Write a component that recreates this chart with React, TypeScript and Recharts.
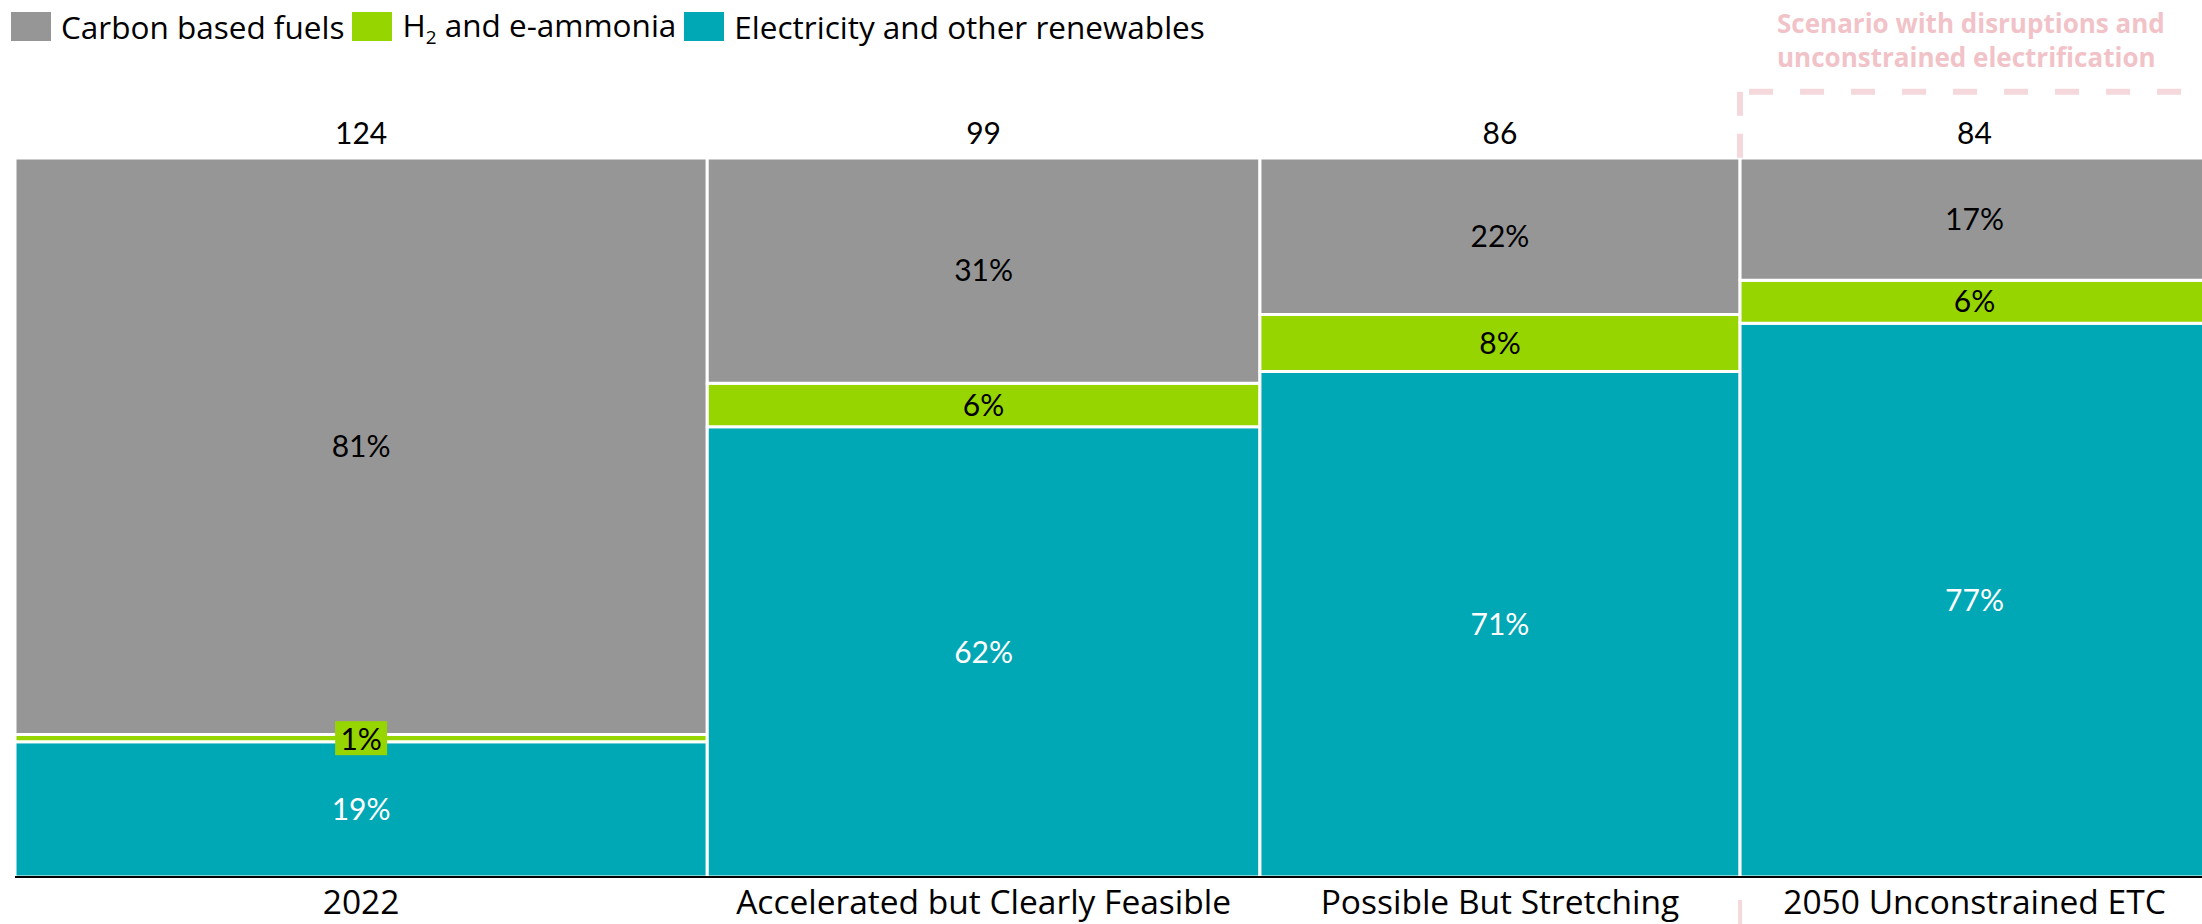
import React from "react"
import {
  ComposedChart, XAxis, YAxis, ReferenceArea, ReferenceLine, Label,
} from "recharts"

const categories = [
  "2022",
  "Accelerated but Clearly Feasible",
  "Possible But Stretching",
  "2050 Unconstrained ETC",
]
const totals = [124, 99, 86, 84]
const carbonShares = [81, 31, 22, 17]
const hydrogenShares = [1, 6, 8, 6]
const electricShares = [19, 62, 71, 77]

const GRAY = "#969696"
const GREEN = "#97d500"
const TEAL = "#00a8b5"
const PINK_TEXT = "#f1c3c8"
const PINK_LINE = "#f5d8db"
const NUM_FONT = "Lato, 'Noto Sans', sans-serif"
const TEXT_FONT = "'Open Sans', Lato, sans-serif"

const grandTotal = totals.reduce((a, b) => a + b, 0)

const starts = totals.map((_, i) => totals.slice(0, i).reduce((a, b) => a + b, 0))
const mids = totals.map((t, i) => starts[i] + t / 2)

type Segment = {
  key: string
  x1: number
  x2: number
  y1: number
  y2: number
  fill: string
  text: string
  textColor: string
  boxed?: boolean
  total?: number
}

const segments: Segment[] = categories.flatMap((cat, i) => {
  const sum = carbonShares[i] + hydrogenShares[i] + electricShares[i]
  const e = (electricShares[i] / sum) * 100
  const h = (hydrogenShares[i] / sum) * 100
  const x1 = starts[i]
  const x2 = starts[i] + totals[i]
  return [
    { key: cat + "-e", x1, x2, y1: 0, y2: e, fill: TEAL, text: `${electricShares[i]}%`, textColor: "#fff" },
    { key: cat + "-h", x1, x2, y1: e, y2: e + h, fill: GREEN, text: `${hydrogenShares[i]}%`, textColor: "#000", boxed: hydrogenShares[i] < 3 },
    { key: cat + "-c", x1, x2, y1: e + h, y2: 100, fill: GRAY, text: `${carbonShares[i]}%`, textColor: "#000", total: totals[i] },
  ]
})

function BoxedLabel(props: any) {
  const vb = props.viewBox || {}
  const cx = vb.x + vb.width / 2
  const cy = vb.y + vb.height / 2
  return (
    <g>
      <rect x={cx - 26} y={cy - 17} width={52} height={34} fill={GREEN} />
      <text x={cx} y={cy} textAnchor="middle" dominantBaseline="central" fontSize={30} fontFamily={NUM_FONT} fill="#000">
        {props.value}
      </text>
    </g>
  )
}

const legendItems = [
  { color: GRAY, label: <>Carbon based fuels</> },
  { color: GREEN, label: <>H<sub style={{ fontSize: "0.6em" }}>2</sub> and e-ammonia</> },
  { color: TEAL, label: <>Electricity and other renewables</> },
]

export default function App() {
  return (
    <div style={{ position: "fixed", left: 0, top: 0, width: 2202, height: 924, overflow: "hidden", background: "#fff", fontFamily: TEXT_FONT }}>
      <div style={{ position: "absolute", left: 11, top: 3, display: "flex", alignItems: "center", fontSize: 31.5, color: "#000", zIndex: 2 }}>
        {legendItems.map((it, i) => (
          <div key={i} style={{ display: "flex", alignItems: "center", marginRight: 8 }}>
            <span style={{ width: 40, height: 29, background: it.color, display: "inline-block", marginRight: 10 }} />
            <span>{it.label}</span>
          </div>
        ))}
      </div>
      <div style={{ position: "absolute", left: 1777, top: 6, fontSize: 26, fontWeight: 700, lineHeight: "34px", color: PINK_TEXT, zIndex: 2 }}>
        Scenario with disruptions and<br />unconstrained electrification
      </div>
      <ComposedChart
        width={2212}
        height={924}
        data={categories.map((c, i) => ({ name: c, mid: mids[i] }))}
        margin={{ top: 158, right: 3, bottom: 0, left: 15 }}
      >
        <XAxis
          type="number"
          dataKey="mid"
          domain={[0, grandTotal]}
          ticks={mids}
          interval={0}
          tickFormatter={(_v: number, i: number) => categories[i]}
          axisLine={{ stroke: "#000", strokeWidth: 2 }}
          tickLine={false}
          tickSize={0}
          tickMargin={13}
          height={47}
          tick={{ fontSize: 33.5, fill: "#000", fontFamily: TEXT_FONT }}
          allowDataOverflow
        />
        <YAxis type="number" domain={[0, 100]} hide allowDataOverflow />
        {segments.map((s) => (
          <ReferenceArea
            key={s.key}
            x1={s.x1}
            x2={s.x2}
            y1={s.y1}
            y2={s.y2}
            fill={s.fill}
            fillOpacity={1}
            stroke="#fff"
            strokeWidth={3}
            ifOverflow="visible"
          >
            {!s.boxed && (
              <Label value={s.text} position="center" fill={s.textColor} fontSize={30} fontFamily={NUM_FONT} />
            )}
            {s.total !== undefined && (
              <Label value={String(s.total)} position="top" offset={14} fill="#000" fontSize={30} fontFamily={NUM_FONT} />
            )}
          </ReferenceArea>
        ))}
        {segments.filter((s) => s.boxed).map((s) => (
          <ReferenceArea
            key={s.key + "-box"}
            x1={s.x1}
            x2={s.x2}
            y1={s.y1}
            y2={s.y2}
            fillOpacity={0}
            strokeOpacity={0}
            ifOverflow="visible"
          >
            <Label value={s.text} position="center" content={BoxedLabel} />
          </ReferenceArea>
        ))}
        <ReferenceLine
          segment={[{ x: starts[3], y: 109.2 }, { x: starts[3], y: 100 }]}
          stroke={PINK_LINE}
          strokeWidth={6}
          strokeDasharray="24 18"
          ifOverflow="visible"
        />
        <ReferenceLine
          segment={[{ x: starts[3], y: 109.2 }, { x: grandTotal + 2, y: 109.2 }]}
          stroke={PINK_LINE}
          strokeWidth={6}
          strokeDasharray="0 9 24 18"
          ifOverflow="visible"
        />
        <ReferenceLine
          segment={[{ x: starts[3], y: -0.4 }, { x: starts[3], y: -7 }]}
          stroke={PINK_LINE}
          strokeWidth={4}
          strokeDasharray="0 20 30 18"
          ifOverflow="visible"
        />
      </ComposedChart>
    </div>
  )
}
